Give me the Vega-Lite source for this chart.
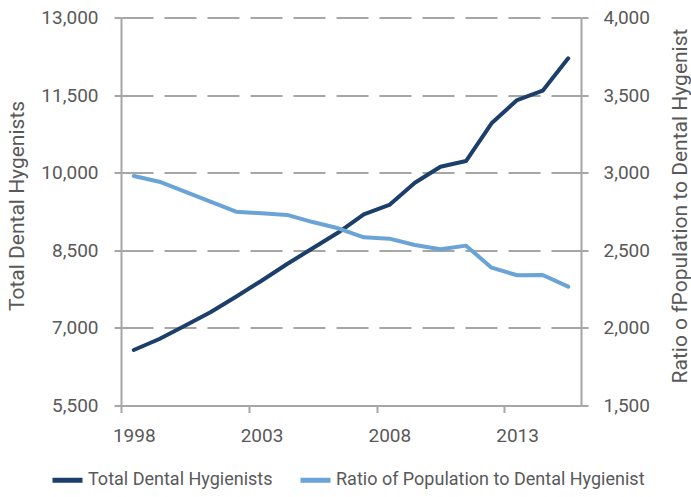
{
  "$schema": "https://vega.github.io/schema/vega-lite/v6.json",
  "width": 460,
  "height": 388,
  "autosize": "none",
  "padding": {"left": 121, "top": 17.5, "right": 110, "bottom": 91.5},
  "config": {
    "font": "Roboto",
    "view": {"stroke": null},
    "axis": {
      "labelFont": "Roboto",
      "labelFontSize": 19,
      "labelColor": "#595959",
      "titleFont": "Roboto",
      "titleFontSize": 21,
      "titleFontWeight": "normal",
      "titleColor": "#595959",
      "domainColor": "#a6a6a6",
      "domainWidth": 2,
      "tickColor": "#a6a6a6",
      "tickWidth": 2,
      "tickSize": 7
    },
    "legend": {
      "labelFont": "Roboto",
      "labelFontSize": 18,
      "labelColor": "#595959"
    }
  },
  "data": {
    "values": [
      {"year": 1998, "series": "Total Dental Hygienists", "value": 6573},
      {"year": 1999, "series": "Total Dental Hygienists", "value": 6785},
      {"year": 2000, "series": "Total Dental Hygienists", "value": 7043},
      {"year": 2001, "series": "Total Dental Hygienists", "value": 7302},
      {"year": 2002, "series": "Total Dental Hygienists", "value": 7603},
      {"year": 2003, "series": "Total Dental Hygienists", "value": 7912},
      {"year": 2004, "series": "Total Dental Hygienists", "value": 8235},
      {"year": 2005, "series": "Total Dental Hygienists", "value": 8539},
      {"year": 2006, "series": "Total Dental Hygienists", "value": 8844},
      {"year": 2007, "series": "Total Dental Hygienists", "value": 9196},
      {"year": 2008, "series": "Total Dental Hygienists", "value": 9376},
      {"year": 2009, "series": "Total Dental Hygienists", "value": 9807},
      {"year": 2010, "series": "Total Dental Hygienists", "value": 10116},
      {"year": 2011, "series": "Total Dental Hygienists", "value": 10226},
      {"year": 2012, "series": "Total Dental Hygienists", "value": 10955},
      {"year": 2013, "series": "Total Dental Hygienists", "value": 11405},
      {"year": 2014, "series": "Total Dental Hygienists", "value": 11585},
      {"year": 2015, "series": "Total Dental Hygienists", "value": 12211},
      {"year": 1998, "series": "Ratio of Population to Dental Hygienist", "value": 2979},
      {"year": 1999, "series": "Ratio of Population to Dental Hygienist", "value": 2942},
      {"year": 2000, "series": "Ratio of Population to Dental Hygienist", "value": 2878},
      {"year": 2001, "series": "Ratio of Population to Dental Hygienist", "value": 2813},
      {"year": 2002, "series": "Ratio of Population to Dental Hygienist", "value": 2749},
      {"year": 2003, "series": "Ratio of Population to Dental Hygienist", "value": 2738},
      {"year": 2004, "series": "Ratio of Population to Dental Hygienist", "value": 2728},
      {"year": 2005, "series": "Ratio of Population to Dental Hygienist", "value": 2682},
      {"year": 2006, "series": "Ratio of Population to Dental Hygienist", "value": 2642},
      {"year": 2007, "series": "Ratio of Population to Dental Hygienist", "value": 2584},
      {"year": 2008, "series": "Ratio of Population to Dental Hygienist", "value": 2575},
      {"year": 2009, "series": "Ratio of Population to Dental Hygienist", "value": 2534},
      {"year": 2010, "series": "Ratio of Population to Dental Hygienist", "value": 2507},
      {"year": 2011, "series": "Ratio of Population to Dental Hygienist", "value": 2530},
      {"year": 2012, "series": "Ratio of Population to Dental Hygienist", "value": 2388},
      {"year": 2013, "series": "Ratio of Population to Dental Hygienist", "value": 2339},
      {"year": 2014, "series": "Ratio of Population to Dental Hygienist", "value": 2341},
      {"year": 2015, "series": "Ratio of Population to Dental Hygienist", "value": 2266}
    ]
  },
  "encoding": {
    "x": {
      "field": "year",
      "type": "quantitative",
      "scale": {"domain": [1997.5, 2015.5], "nice": false, "zero": false},
      "axis": {
        "values": [1998, 2003, 2008, 2013],
        "format": "d",
        "title": null,
        "grid": false,
        "tickOffset": -12.78,
        "labelOffset": 12.78,
        "labelPadding": 14
      }
    },
    "color": {
      "field": "series",
      "type": "nominal",
      "scale": {
        "domain": ["Total Dental Hygienists", "Ratio of Population to Dental Hygienist"],
        "range": ["#1b3f6a", "#6aa4d6"]
      },
      "legend": {
        "title": null,
        "orient": "none",
        "direction": "horizontal",
        "legendX": -71,
        "legendY": 445,
        "symbolType": "stroke",
        "symbolSize": 900,
        "symbolStrokeWidth": 5,
        "labelOffset": 3,
        "columnPadding": 17,
        "labelLimit": 500
      }
    }
  },
  "layer": [
    {
      "transform": [{"filter": "datum.series === 'Total Dental Hygienists'"}],
      "mark": {"type": "line", "strokeWidth": 4, "strokeCap": "round", "strokeJoin": "round"},
      "encoding": {
        "y": {
          "field": "value",
          "type": "quantitative",
          "scale": {"domain": [5500, 13000], "nice": false, "zero": false},
          "axis": {
            "orient": "left",
            "values": [5500, 7000, 8500, 10000, 11500, 13000],
            "format": ",.0f",
            "title": "Total Dental  Hygenists",
            "titleAngle": 270,
            "titleX": -104,
            "titleY": 188,
            "titleAlign": "center",
            "titleBaseline": "middle",
            "labelPadding": 16,
            "grid": true,
            "gridColor": "#a6a6a6",
            "gridWidth": 2,
            "gridDash": [32, 11]
          }
        }
      }
    },
    {
      "transform": [{"filter": "datum.series === 'Ratio of Population to Dental Hygienist'"}],
      "mark": {"type": "line", "strokeWidth": 4, "strokeCap": "round", "strokeJoin": "round"},
      "encoding": {
        "y": {
          "field": "value",
          "type": "quantitative",
          "scale": {"domain": [1500, 4000], "nice": false, "zero": false},
          "axis": {
            "orient": "right",
            "values": [1500, 2000, 2500, 3000, 3500, 4000],
            "format": ",.0f",
            "title": "Ratio o fPopulation to Dental Hygenist",
            "titleAngle": 270,
            "titleX": 99,
            "titleY": 188,
            "titleAlign": "center",
            "titleBaseline": "middle",
            "labelPadding": 15,
            "grid": false
          }
        }
      }
    }
  ],
  "resolve": {"scale": {"y": "independent"}}
}
